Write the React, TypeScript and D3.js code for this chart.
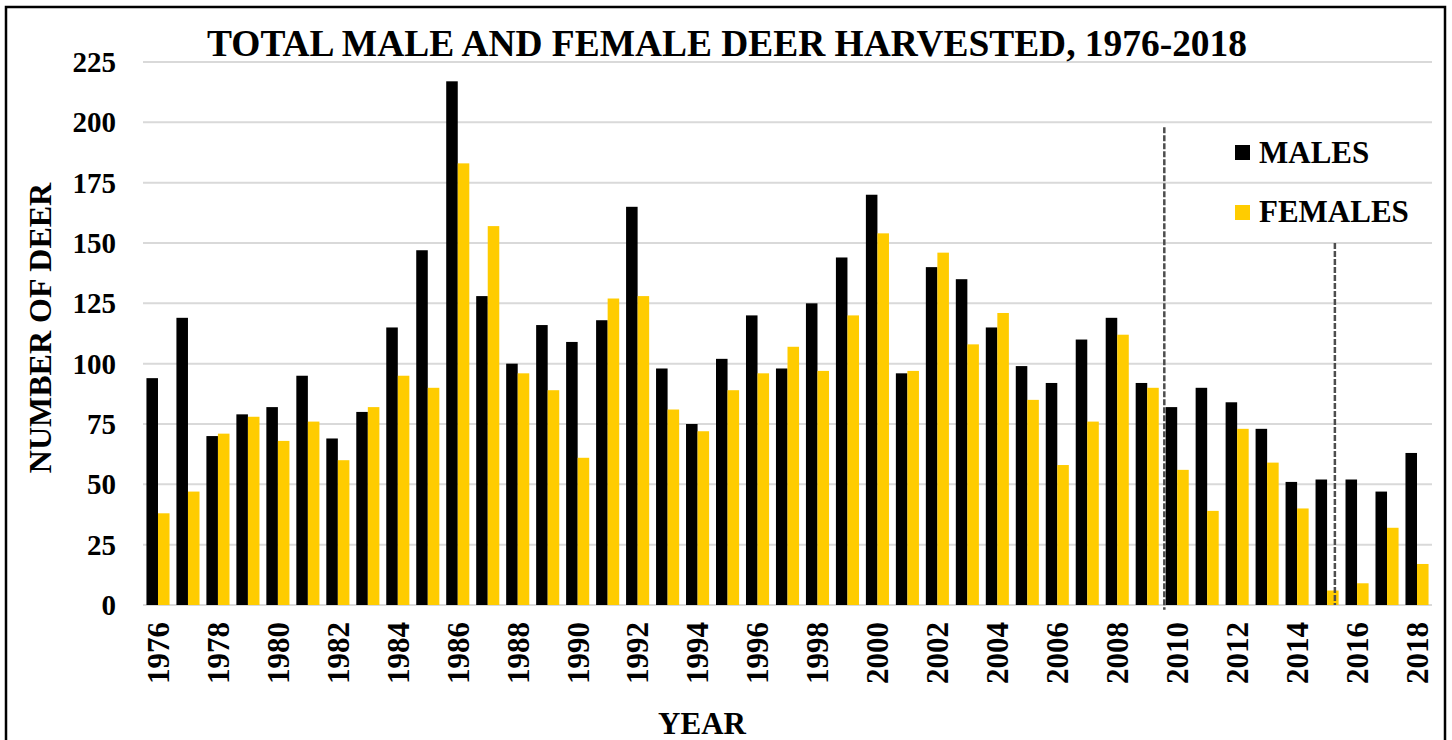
import React from "react";
import * as d3 from "d3";

const years: number[] = d3.range(1976, 2019);
const males: number[] = [94, 119, 70, 79, 82, 95, 69, 80, 115, 147, 217, 128, 100, 116, 109, 118, 165, 98, 75, 102, 120, 98, 125, 144, 170, 96, 140, 135, 115, 99, 92, 110, 119, 92, 82, 90, 84, 73, 51, 52, 52, 47, 63];
const females: number[] = [38, 47, 71, 78, 68, 76, 60, 82, 95, 90, 183, 157, 96, 89, 61, 127, 128, 81, 72, 89, 96, 107, 97, 120, 154, 97, 146, 108, 121, 85, 58, 76, 112, 90, 56, 39, 73, 59, 40, 6, 9, 32, 17];
const yTicks: number[] = [0, 25, 50, 75, 100, 125, 150, 175, 200, 225];
const xTickYears: number[] = years.filter((y) => (y - 1976) % 2 === 0);
const seriesNames: string[] = ["MALES", "FEMALES"];
const seriesColors: string[] = ["#000000", "#FFCC00"];
// dashed reference markers: fractional year position and top/bottom values
const markerPos: number[] = [2009.57, 2015.26];
const markerTop: number[] = [198, 150];
const markerBottom: number[] = [-2, 0];

const W = 1452;
const H = 740;
const left = 143;
const right = 1432;
const top = 62;
const bottom = 605;
const FONT = "'Liberation Serif', 'Times New Roman', serif";

export default function App() {
  const x = d3
    .scaleBand<number>()
    .domain(years)
    .range([left, right])
    .paddingInner(0.23)
    .paddingOuter(0.115);
  const xs = d3
    .scaleBand<string>()
    .domain(seriesNames)
    .range([0, x.bandwidth()])
    .padding(0);
  const y = d3.scaleLinear().domain([0, 225]).range([bottom, top]);
  const xLin = d3.scaleLinear().domain([1975.5, 2018.5]).range([left, right]);
  const data = [males, females];

  return (
    <svg
      width={W}
      height={H}
      style={{ position: "absolute", left: 0, top: 0, background: "#fff" }}
      fontFamily={FONT}
    >
      <rect x={0} y={0} width={W} height={H} fill="#fff" />
      <rect x={6} y={7} width={1439} height={800} fill="none" stroke="#000" strokeWidth={2.5} />

      {yTicks.map((t) => (
        <line key={"g" + t} x1={left} x2={right} y1={y(t)} y2={y(t)} stroke="#d9d9d9" strokeWidth={2} />
      ))}

      {data.map((vals, si) =>
        vals.map((v, i) => (
          <rect
            key={si + "-" + i}
            x={(x(years[i]) as number) + (xs(seriesNames[si]) as number)}
            y={y(v)}
            width={xs.bandwidth()}
            height={y(0) - y(v)}
            fill={seriesColors[si]}
          />
        ))
      )}

      {markerPos.map((p, i) => (
        <line
          key={"m" + i}
          x1={xLin(p)}
          x2={xLin(p)}
          y1={y(markerTop[i])}
          y2={y(markerBottom[i])}
          stroke="#4d4d4d"
          strokeWidth={2.5}
          strokeDasharray="6,2"
        />
      ))}

      {yTicks.map((t) => (
        <text
          key={"yt" + t}
          x={116}
          y={y(t)}
          dy="0.35em"
          textAnchor="end"
          fontSize={29}
          fontWeight="bold"
        >
          {t}
        </text>
      ))}

      {xTickYears.map((yr) => {
        const cx = (x(yr) as number) + x.bandwidth() / 2;
        return (
          <text
            key={"xt" + yr}
            transform={`translate(${cx},${622}) rotate(-90)`}
            dy="0.35em"
            textAnchor="end"
            fontSize={31}
            fontWeight="bold"
          >
            {yr}
          </text>
        );
      })}

      <text x={207} y={56} fontSize={37} fontWeight="bold" textLength={1040} lengthAdjust="spacingAndGlyphs">
        TOTAL MALE AND FEMALE DEER HARVESTED, 1976-2018
      </text>

      <text
        transform={`translate(${51},${328}) rotate(-90)`}
        textAnchor="middle"
        fontSize={32}
        fontWeight="bold"
      >
        NUMBER OF DEER
      </text>

      <text x={702} y={734} textAnchor="middle" fontSize={31} fontWeight="bold">
        YEAR
      </text>

      {seriesNames.map((s, i) => (
        <g key={"lg" + s}>
          <rect x={1235} y={145 + i * 60} width={15} height={15} fill={seriesColors[i]} />
          <text x={1259} y={163 + i * 59} fontSize={31} fontWeight="bold">
            {s}
          </text>
        </g>
      ))}
    </svg>
  );
}
